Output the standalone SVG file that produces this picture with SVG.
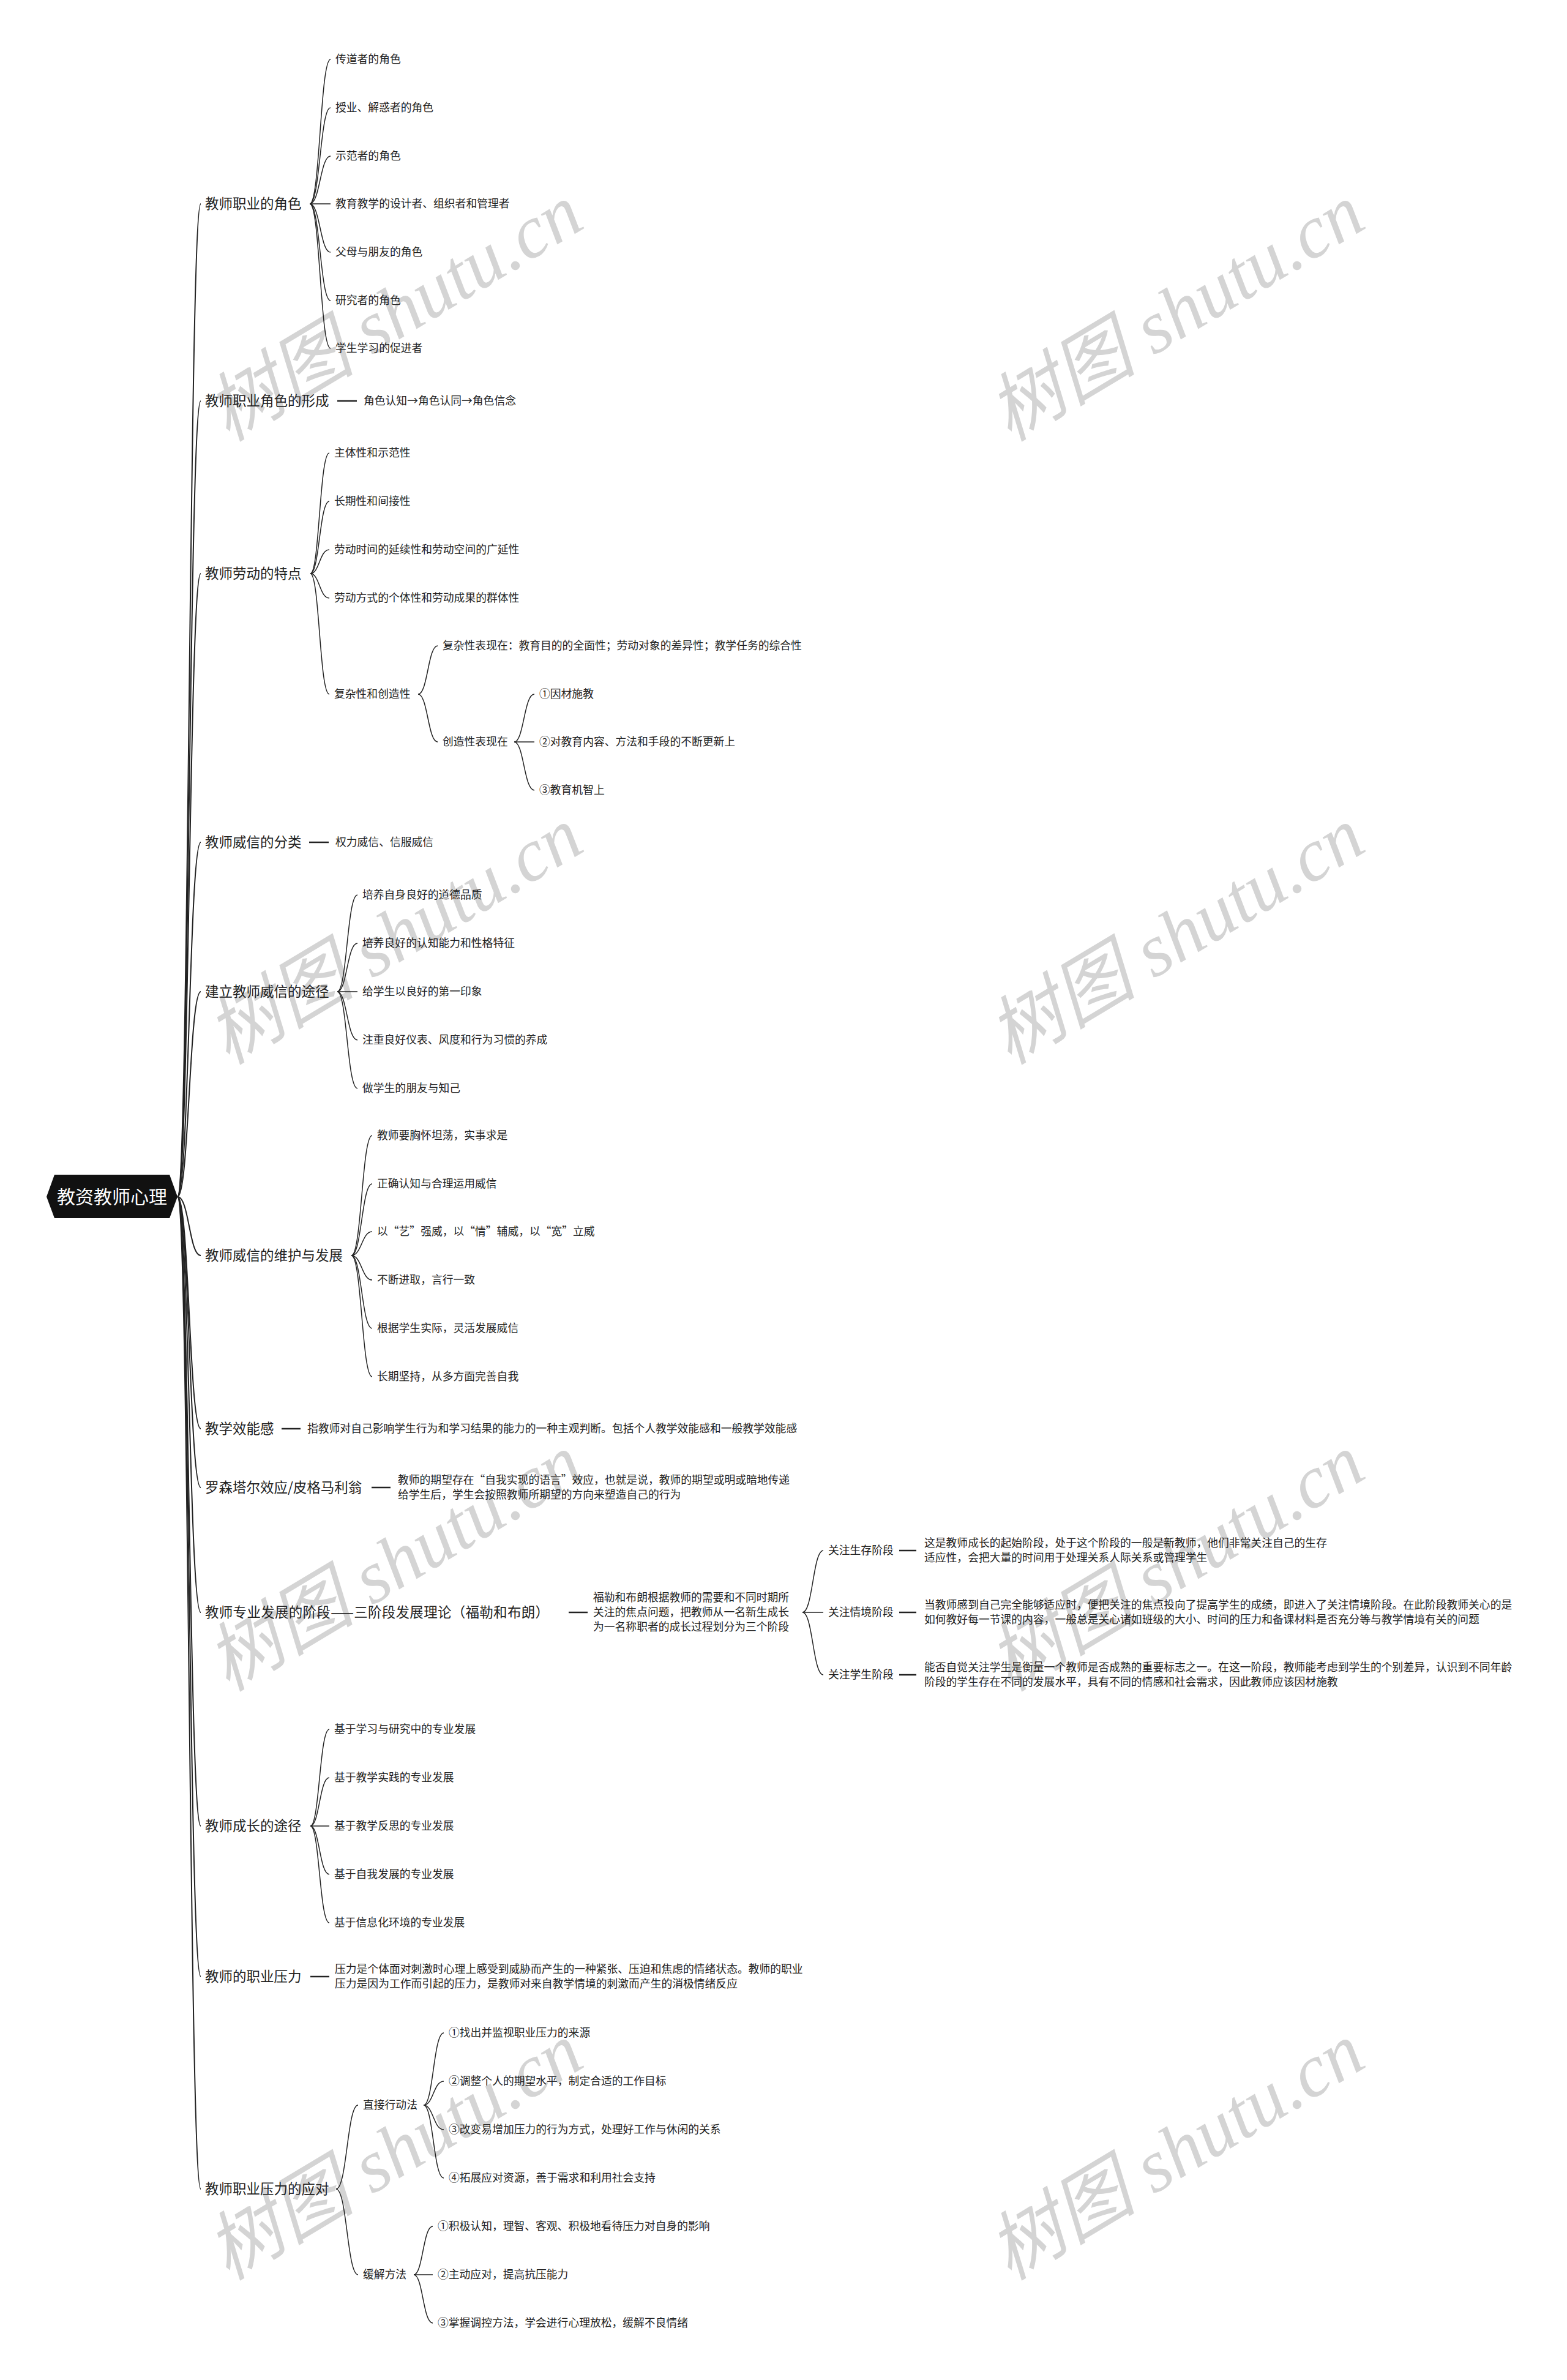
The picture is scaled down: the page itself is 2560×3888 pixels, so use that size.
<svg xmlns="http://www.w3.org/2000/svg" width="2560" height="3888" viewBox="0 0 2560 3888">
<style>
text{font-family:"Noto Sans CJK SC","Noto Sans",sans-serif;fill:#222}
.l1{font-size:22.5px}
.lf{font-size:17.8px}
.root{font-size:30px;fill:#fff}
.wm{font-family:"Liberation Serif","Noto Sans CJK SC",serif;font-style:italic;font-size:122px;fill:#d4d4d4}
.c{fill:none;stroke:#222;stroke-width:1.5}
.cr{fill:none;stroke:#222;stroke-width:2}
.d{stroke:#222;stroke-width:2.5}
</style>
<rect width="2560" height="3888" fill="#fff"/>
<g id="watermarks">
<text class="wm" x="645" y="552" text-anchor="middle" transform="rotate(-31 645 512)">树图 shutu.cn</text>
<text class="wm" x="1922" y="552" text-anchor="middle" transform="rotate(-31 1922 512)">树图 shutu.cn</text>
<text class="wm" x="645" y="1570" text-anchor="middle" transform="rotate(-31 645 1530)">树图 shutu.cn</text>
<text class="wm" x="1922" y="1570" text-anchor="middle" transform="rotate(-31 1922 1530)">树图 shutu.cn</text>
<text class="wm" x="645" y="2594" text-anchor="middle" transform="rotate(-31 645 2554)">树图 shutu.cn</text>
<text class="wm" x="1922" y="2594" text-anchor="middle" transform="rotate(-31 1922 2554)">树图 shutu.cn</text>
<text class="wm" x="645" y="3556" text-anchor="middle" transform="rotate(-31 645 3516)">树图 shutu.cn</text>
<text class="wm" x="1922" y="3556" text-anchor="middle" transform="rotate(-31 1922 3516)">树图 shutu.cn</text>
</g>
<g id="connectors">
<path class="cr" d="M290,1955 C309,1955 309,333 328,333"/>
<path class="cr" d="M290,1955 C309,1955 309,655 328,655"/>
<path class="cr" d="M290,1955 C309,1955 309,937 328,937"/>
<path class="cr" d="M290,1955 C309,1955 309,1376 328,1376"/>
<path class="cr" d="M290,1955 C309,1955 309,1620 328,1620"/>
<path class="cr" d="M290,1955 C309,1955 309,2051 328,2051"/>
<path class="cr" d="M290,1955 C309,1955 309,2334 328,2334"/>
<path class="cr" d="M290,1955 C309,1955 309,2430 328,2430"/>
<path class="cr" d="M290,1955 C309,1955 309,2634 328,2634"/>
<path class="cr" d="M290,1955 C309,1955 309,2983 328,2983"/>
<path class="cr" d="M290,1955 C309,1955 309,3229 328,3229"/>
<path class="cr" d="M290,1955 C309,1955 309,3576 328,3576"/>
<path class="c" d="M506,333 C523,333 523,97 540,97"/>
<path class="c" d="M506,333 C523,333 523,176 540,176"/>
<path class="c" d="M506,333 C523,333 523,255 540,255"/>
<path class="c" d="M506,333 L540,333"/>
<path class="c" d="M506,333 C523,333 523,412 540,412"/>
<path class="c" d="M506,333 C523,333 523,491 540,491"/>
<path class="c" d="M506,333 C523,333 523,569 540,569"/>
<line class="d" x1="551" y1="655" x2="583" y2="655"/>
<path class="c" d="M507,937 C522,937 522,740 538,740"/>
<path class="c" d="M507,937 C522,937 522,819 538,819"/>
<path class="c" d="M507,937 C522,937 522,898 538,898"/>
<path class="c" d="M507,937 C522,937 522,977 538,977"/>
<path class="c" d="M507,937 C522,937 522,1134 538,1134"/>
<path class="c" d="M683,1134 C699,1134 699,1055 715,1055"/>
<path class="c" d="M683,1134 C699,1134 699,1212 715,1212"/>
<path class="c" d="M840,1212 C856,1212 856,1134 873,1134"/>
<path class="c" d="M840,1212 L873,1212"/>
<path class="c" d="M840,1212 C856,1212 856,1291 873,1291"/>
<line class="d" x1="505" y1="1376" x2="537" y2="1376"/>
<path class="c" d="M551,1620 C567,1620 567,1462 584,1462"/>
<path class="c" d="M551,1620 C567,1620 567,1541 584,1541"/>
<path class="c" d="M551,1620 L584,1620"/>
<path class="c" d="M551,1620 C567,1620 567,1699 584,1699"/>
<path class="c" d="M551,1620 C567,1620 567,1778 584,1778"/>
<path class="c" d="M574,2051 C591,2051 591,1855 608,1855"/>
<path class="c" d="M574,2051 C591,2051 591,1934 608,1934"/>
<path class="c" d="M574,2051 C591,2051 591,2012 608,2012"/>
<path class="c" d="M574,2051 C591,2051 591,2091 608,2091"/>
<path class="c" d="M574,2051 C591,2051 591,2170 608,2170"/>
<path class="c" d="M574,2051 C591,2051 591,2249 608,2249"/>
<line class="d" x1="460" y1="2334" x2="491" y2="2334"/>
<line class="d" x1="607" y1="2430" x2="638" y2="2430"/>
<line class="d" x1="929" y1="2634" x2="960" y2="2634"/>
<path class="c" d="M1311,2634 C1328,2634 1328,2533 1345,2533"/>
<path class="c" d="M1311,2634 L1345,2634"/>
<path class="c" d="M1311,2634 C1328,2634 1328,2736 1345,2736"/>
<line class="d" x1="1469" y1="2533" x2="1497" y2="2533"/>
<line class="d" x1="1469" y1="2634" x2="1497" y2="2634"/>
<line class="d" x1="1469" y1="2736" x2="1497" y2="2736"/>
<path class="c" d="M507,2983 C522,2983 522,2825 538,2825"/>
<path class="c" d="M507,2983 C522,2983 522,2904 538,2904"/>
<path class="c" d="M507,2983 L538,2983"/>
<path class="c" d="M507,2983 C522,2983 522,3062 538,3062"/>
<path class="c" d="M507,2983 C522,2983 522,3141 538,3141"/>
<line class="d" x1="507" y1="3229" x2="538" y2="3229"/>
<path class="c" d="M549,3576 C567,3576 567,3439 585,3439"/>
<path class="c" d="M549,3576 C567,3576 567,3716 585,3716"/>
<path class="c" d="M692,3439 C708,3439 708,3321 725,3321"/>
<path class="c" d="M692,3439 C708,3439 708,3400 725,3400"/>
<path class="c" d="M692,3439 C708,3439 708,3479 725,3479"/>
<path class="c" d="M692,3439 C708,3439 708,3558 725,3558"/>
<path class="c" d="M676,3716 C691,3716 691,3637 707,3637"/>
<path class="c" d="M676,3716 L707,3716"/>
<path class="c" d="M676,3716 C691,3716 691,3795 707,3795"/>
</g>
<g id="root">
<polygon points="89,1919 277,1919 290,1955 277,1990 89,1990 76,1955" fill="#111"/>
<text class="root" x="183" y="1966" text-anchor="middle">教资教师心理</text>
</g>
<g id="n1">
<text class="l1" x="335" y="341">教师职业的角色</text>
<text class="lf" x="548" y="103">传道者的角色</text>
<text class="lf" x="548" y="182">授业、解惑者的角色</text>
<text class="lf" x="548" y="261">示范者的角色</text>
<text class="lf" x="548" y="339">教育教学的设计者、组织者和管理者</text>
<text class="lf" x="548" y="418">父母与朋友的角色</text>
<text class="lf" x="548" y="497">研究者的角色</text>
<text class="lf" x="548" y="575">学生学习的促进者</text>
</g>
<g id="n2">
<text class="l1" x="335" y="663">教师职业角色的形成</text>
<text class="lf" x="594" y="661">角色认知→角色认同→角色信念</text>
</g>
<g id="n3">
<text class="l1" x="335" y="945">教师劳动的特点</text>
<text class="lf" x="546" y="746">主体性和示范性</text>
<text class="lf" x="546" y="825">长期性和间接性</text>
<text class="lf" x="546" y="904">劳动时间的延续性和劳动空间的广延性</text>
<text class="lf" x="546" y="983">劳动方式的个体性和劳动成果的群体性</text>
<text class="lf" x="546" y="1140">复杂性和创造性</text>
<text class="lf" x="723" y="1061">复杂性表现在：教育目的的全面性；劳动对象的差异性；教学任务的综合性</text>
<text class="lf" x="723" y="1218">创造性表现在</text>
<text class="lf" x="881" y="1140">①因材施教</text>
<text class="lf" x="881" y="1218">②对教育内容、方法和手段的不断更新上</text>
<text class="lf" x="881" y="1297">③教育机智上</text>
</g>
<g id="n4">
<text class="l1" x="335" y="1384">教师威信的分类</text>
<text class="lf" x="548" y="1382">权力威信、信服威信</text>
</g>
<g id="n5">
<text class="l1" x="335" y="1628">建立教师威信的途径</text>
<text class="lf" x="592" y="1468">培养自身良好的道德品质</text>
<text class="lf" x="592" y="1547">培养良好的认知能力和性格特征</text>
<text class="lf" x="592" y="1626">给学生以良好的第一印象</text>
<text class="lf" x="592" y="1705">注重良好仪表、风度和行为习惯的养成</text>
<text class="lf" x="592" y="1784">做学生的朋友与知己</text>
</g>
<g id="n6">
<text class="l1" x="335" y="2059">教师威信的维护与发展</text>
<text class="lf" x="616" y="1861">教师要胸怀坦荡，实事求是</text>
<text class="lf" x="616" y="1940">正确认知与合理运用威信</text>
<text class="lf" x="616" y="2018">以“艺”强威，以“情”辅威，以“宽”立威</text>
<text class="lf" x="616" y="2097">不断进取，言行一致</text>
<text class="lf" x="616" y="2176">根据学生实际，灵活发展威信</text>
<text class="lf" x="616" y="2255">长期坚持，从多方面完善自我</text>
</g>
<g id="n7">
<text class="l1" x="335" y="2342">教学效能感</text>
<text class="lf" x="502" y="2340">指教师对自己影响学生行为和学习结果的能力的一种主观判断。包括个人教学效能感和一般教学效能感</text>
</g>
<g id="n8">
<text class="l1" x="335" y="2438">罗森塔尔效应/皮格马利翁</text>
<text class="lf" x="650" y="2424">教师的期望存在“自我实现的语言”效应，也就是说，教师的期望或明或暗地传递<tspan x="650" dy="24">给学生后，学生会按照教师所期望的方向来塑造自己的行为</tspan></text>
</g>
<g id="n9">
<text class="l1" x="335" y="2642" textLength="562" lengthAdjust="spacing">教师专业发展的阶段——三阶段发展理论（福勒和布朗）</text>
<text class="lf" x="969" y="2616">福勒和布朗根据教师的需要和不同时期所<tspan x="969" dy="24">关注的焦点问题，把教师从一名新生成长</tspan><tspan x="969" dy="24">为一名称职者的成长过程划分为三个阶段</tspan></text>
<text class="lf" x="1353" y="2539">关注生存阶段</text>
<text class="lf" x="1510" y="2527">这是教师成长的起始阶段，处于这个阶段的一般是新教师，他们非常关注自己的生存<tspan x="1510" dy="24">适应性，会把大量的时间用于处理关系人际关系或管理学生</tspan></text>
<text class="lf" x="1353" y="2640">关注情境阶段</text>
<text class="lf" x="1510" y="2628">当教师感到自己完全能够适应时，便把关注的焦点投向了提高学生的成绩，即进入了关注情境阶段。在此阶段教师关心的是<tspan x="1510" dy="24">如何教好每一节课的内容，一般总是关心诸如班级的大小、时间的压力和备课材料是否充分等与教学情境有关的问题</tspan></text>
<text class="lf" x="1353" y="2742">关注学生阶段</text>
<text class="lf" x="1510" y="2730">能否自觉关注学生是衡量一个教师是否成熟的重要标志之一。在这一阶段，教师能考虑到学生的个别差异，认识到不同年龄<tspan x="1510" dy="24">阶段的学生存在不同的发展水平，具有不同的情感和社会需求，因此教师应该因材施教</tspan></text>
</g>
<g id="n10">
<text class="l1" x="335" y="2991">教师成长的途径</text>
<text class="lf" x="546" y="2831">基于学习与研究中的专业发展</text>
<text class="lf" x="546" y="2910">基于教学实践的专业发展</text>
<text class="lf" x="546" y="2989">基于教学反思的专业发展</text>
<text class="lf" x="546" y="3068">基于自我发展的专业发展</text>
<text class="lf" x="546" y="3147">基于信息化环境的专业发展</text>
</g>
<g id="n11">
<text class="l1" x="335" y="3237">教师的职业压力</text>
<text class="lf" x="547" y="3223">压力是个体面对刺激时心理上感受到威胁而产生的一种紧张、压迫和焦虑的情绪状态。教师的职业<tspan x="547" dy="24">压力是因为工作而引起的压力，是教师对来自教学情境的刺激而产生的消极情绪反应</tspan></text>
</g>
<g id="n12">
<text class="l1" x="335" y="3584">教师职业压力的应对</text>
<text class="lf" x="593" y="3445">直接行动法</text>
<text class="lf" x="733" y="3327">①找出并监视职业压力的来源</text>
<text class="lf" x="733" y="3406">②调整个人的期望水平，制定合适的工作目标</text>
<text class="lf" x="733" y="3485">③改变易增加压力的行为方式，处理好工作与休闲的关系</text>
<text class="lf" x="733" y="3564">④拓展应对资源，善于需求和利用社会支持</text>
<text class="lf" x="593" y="3722">缓解方法</text>
<text class="lf" x="715" y="3643">①积极认知，理智、客观、积极地看待压力对自身的影响</text>
<text class="lf" x="715" y="3722">②主动应对，提高抗压能力</text>
<text class="lf" x="715" y="3801">③掌握调控方法，学会进行心理放松，缓解不良情绪</text>
</g>
</svg>
